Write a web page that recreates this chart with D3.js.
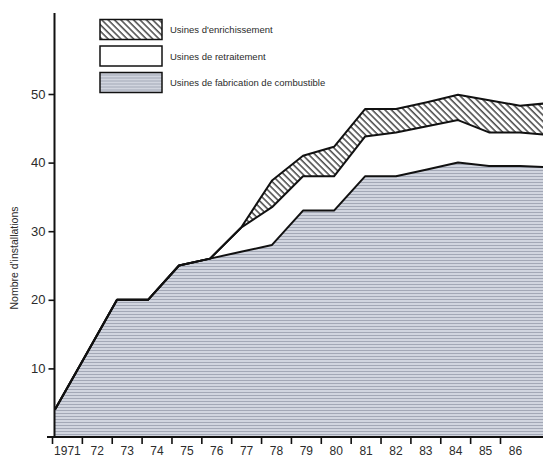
<!DOCTYPE html>
<html>
<head>
<meta charset="utf-8">
<script src="https://cdn.jsdelivr.net/npm/d3@7"></script>
<style>
  body { margin: 0; background: #fff; }
  text { font-family: "Liberation Sans", Arial, sans-serif; fill: #2b2b2b; }
</style>
</head>
<body>
<div id="chart"></div>
<script>
// data (number of plants, stacked)
const years = [1971, 1972, 1973, 1974, 1975, 1976, 1977, 1978, 1979, 1980, 1981, 1982, 1983, 1984, 1985, 1986, 1987]
const fabrication = [4, 12, 20, 20, 25, 26, 27, 28, 33, 33, 38, 38, 39, 40, 39.5, 39.5, 39.3]
const retraitement = [0, 0, 0, 0, 0, 0, 3.5, 5.5, 5, 5, 5.8, 6.4, 6.3, 6.2, 4.9, 4.9, 4.7]
const enrichissement = [0, 0, 0, 0, 0, 0, 0, 3.9, 3, 4.3, 4, 3.4, 3.5, 3.7, 4.7, 3.9, 4.7]
const tickYears = [1971, 1972, 1973, 1974, 1975, 1976, 1977, 1978, 1979, 1980, 1981, 1982, 1983, 1984, 1985, 1986]
const tickLabels = ["1971", "72", "73", "74", "75", "76", "77", "78", "79", "80", "81", "82", "83", "84", "85", "86"]
const yTicks = [10, 20, 30, 40, 50]
const legendLabels = ["Usines d'enrichissement", "Usines de retraitement", "Usines de fabrication de combustible"]

const width = 543, height = 458

const svg = d3.select("#chart").append("svg")
    .attr("width", width)
    .attr("height", height)

// patterns: horizontal lines for fabrication, diagonal hatch for enrichment
const defs = svg.append("defs")
const ph = defs.append("pattern")
    .attr("id", "horiz")
    .attr("patternUnits", "userSpaceOnUse")
    .attr("width", 8).attr("height", 3)
ph.append("rect").attr("width", 8).attr("height", 3).attr("fill", "#d1d5df")
ph.append("rect").attr("y", 2).attr("width", 8).attr("height", 1).attr("fill", "#a3a8b6")

const pd = defs.append("pattern")
    .attr("id", "hatch")
    .attr("patternUnits", "userSpaceOnUse")
    .attr("width", 4.5).attr("height", 10)
    .attr("patternTransform", "rotate(-45)")
pd.append("rect").attr("width", 4.5).attr("height", 10).attr("fill", "#fff")
pd.append("line").attr("x1", 1).attr("x2", 1).attr("y1", 0).attr("y2", 10)
    .attr("stroke", "#2a2a2a").attr("stroke-width", 1.3)

// scales: the drawn year ticks are spaced a little tighter than the plotted points
const x = d3.scaleLinear().domain([1971, 1986]).range([55, 520])
const xTick = d3.scaleLinear().domain([1971, 1986]).range([52, 500])
const y = d3.scaleLinear().domain([0, 50]).range([437, 94])

const table = years.map((yr, i) => ({
    year: yr,
    fabrication: fabrication[i],
    retraitement: retraitement[i],
    enrichissement: enrichissement[i]
}))
const series = d3.stack().keys(["fabrication", "retraitement", "enrichissement"])(table)

const area = d3.area()
    .x(d => x(d.data.year))
    .y0(d => y(d[0]))
    .y1(d => y(d[1]))

const fills = ["url(#horiz)", "#fff", "url(#hatch)"]

svg.append("g").selectAll("path")
    .data(series)
    .join("path")
    .attr("d", area)
    .attr("fill", (d, i) => fills[i])

// outlines on top of each layer
const line = d3.line()
    .x(d => x(d.data.year))
    .y(d => y(d[1]))

svg.append("g").selectAll("path")
    .data(series)
    .join("path")
    .attr("d", line)
    .attr("fill", "none")
    .attr("stroke", "#111")
    .attr("stroke-width", 2)
    .attr("stroke-linejoin", "round")

// y axis
const yAxis = svg.append("g")
    .attr("transform", "translate(54.5,0)")
    .call(d3.axisLeft(y).tickValues(yTicks).tickSize(6).tickPadding(3))
yAxis.select(".domain").remove()
yAxis.selectAll("line").attr("stroke", "#111").attr("stroke-width", 1.6)
yAxis.selectAll("text").style("font-size", "13px").style("fill", "#2b2b2b").attr("font-family", null)

svg.append("line")
    .attr("x1", 54.5).attr("x2", 54.5)
    .attr("y1", 13).attr("y2", y(0))
    .attr("stroke", "#111").attr("stroke-width", 2)

// x axis, labels sit between the ticks
const half = (xTick(1972) - xTick(1971)) / 2
const xAxis = svg.append("g")
    .attr("transform", "translate(0," + y(0) + ")")
    .call(d3.axisBottom(xTick).tickValues(tickYears).tickSize(7).tickPadding(2)
        .tickFormat((d, i) => tickLabels[i]))
xAxis.select(".domain").remove()
xAxis.selectAll("line").attr("stroke", "#111").attr("stroke-width", 1.6)
xAxis.selectAll("text")
    .attr("dx", half)
    .style("font-size", "12px").style("fill", "#2b2b2b").attr("font-family", null)

svg.append("line")
    .attr("x1", 47).attr("x2", width)
    .attr("y1", y(0)).attr("y2", y(0))
    .attr("stroke", "#111").attr("stroke-width", 2)

// y axis title
svg.append("text")
    .attr("transform", "translate(18,258) rotate(-90)")
    .attr("text-anchor", "middle")
    .style("font-size", "10.5px")
    .text("Nombre d'installations")

// legend
const legendFills = ["url(#hatch)", "#fff", "url(#horiz)"]
const legend = svg.append("g").attr("transform", "translate(100,19.5)")
const item = legend.selectAll("g")
    .data(legendLabels)
    .join("g")
    .attr("transform", (d, i) => "translate(0," + i * 26.5 + ")")
item.append("rect")
    .attr("width", 62).attr("height", 20)
    .attr("fill", (d, i) => legendFills[i])
    .attr("stroke", "#111").attr("stroke-width", 1.5)
item.append("text")
    .attr("x", 70).attr("y", 13.5)
    .style("font-size", "9.5px")
    .text(d => d)
</script>
</body>
</html>
